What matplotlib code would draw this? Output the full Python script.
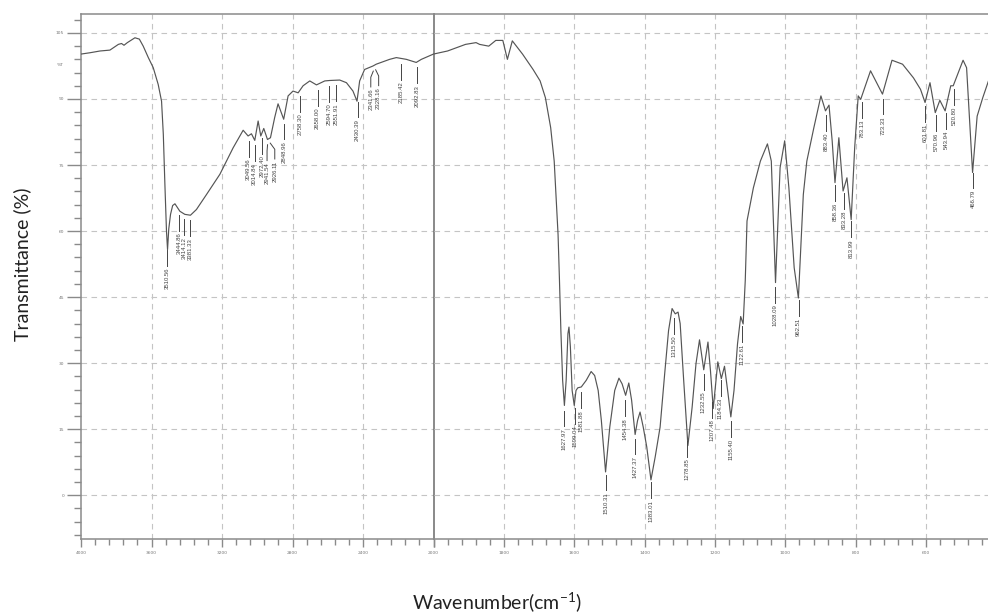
import numpy as np
import matplotlib
matplotlib.use("Agg")
import matplotlib.pyplot as plt
from matplotlib.ticker import MultipleLocator

plt.rcParams["mathtext.fontset"] = "custom"
plt.rcParams["mathtext.rm"] = "Lato"

# spectrum (cm-1, %T)
wavenumber = [
    4000, 3949, 3892, 3836, 3788, 3770, 3756, 3737, 3694, 3669, 3647, 3618,
    3590, 3562, 3543, 3533, 3524, 3515, 3509, 3502, 3492, 3480, 3467, 3439,
    3411, 3379, 3345, 3288, 3212, 3137, 3080, 3052, 3033, 3014, 2995, 2980,
    2963, 2942, 2925, 2901, 2882, 2850, 2825, 2797, 2768, 2740, 2702, 2664,
    2617, 2589, 2532, 2494, 2457, 2434, 2419, 2391, 2343, 2325, 2249, 2211,
    2154, 2098, 2069, 2000,
    1960, 1909, 1879, 1869, 1843, 1823, 1803, 1790, 1776, 1747, 1717, 1697,
    1682, 1667, 1657, 1646,
    1642, 1638, 1633, 1628, 1623, 1618, 1615, 1611, 1606, 1600, 1595, 1590,
    1580, 1566, 1552, 1542, 1532, 1523, 1511, 1499, 1485, 1473, 1464, 1454,
    1445, 1437, 1427, 1420, 1413, 1404, 1394, 1382, 1370, 1356, 1343, 1332,
    1322, 1313, 1305, 1299, 1289, 1277, 1265, 1254, 1244, 1232, 1220, 1213,
    1205, 1198, 1192, 1182, 1173, 1163, 1155, 1146, 1136, 1127, 1120,
    1114, 1109, 1091,
    1071, 1051, 1040, 1028, 1015, 1002, 990, 975, 963, 949, 939, 919, 899,
    886, 876, 867, 859, 848, 836, 825, 813, 803, 793, 786, 758, 724, 697,
    667, 636, 616, 603, 589, 574, 561, 546, 530, 523, 495, 485, 468, 455,
    439, 426, 415,
]
transmittance = [
    100.2, 100.5, 100.9, 101.1, 102.4, 102.6, 102.2, 102.8, 103.9, 103.6, 102.0, 99.4,
    97.1, 93.3, 89.5, 82.0, 70.6, 60.0, 55.8, 60.5, 63.8, 65.8, 66.2, 64.5,
    63.8, 63.6, 64.9, 68.3, 72.9, 78.9, 82.9, 81.6, 82.1, 80.6, 85.0, 81.6,
    83.3, 80.8, 81.2, 85.8, 88.9, 85.4, 90.7, 91.8, 91.4, 93.0, 94.1, 93.2,
    94.1, 94.2, 94.3, 93.7, 91.8, 89.5, 94.1, 96.7, 97.5, 97.9, 99.0, 99.4,
    99.0, 98.3, 99.0, 100.2,
    100.9, 102.4, 102.8, 102.4, 102.0, 103.3, 103.3, 99.0, 103.2, 100.2, 96.7, 94.1,
    90.3, 83.5, 75.9, 59.2,
    48.8, 37.4, 26.1, 20.4, 26.1, 36.7, 38.2, 33.7, 23.8, 20.4, 23.8, 24.4,
    24.6, 26.1, 28.1, 27.2, 23.8, 17.0, 5.3, 15.5, 23.8, 26.6, 25.3, 22.7,
    25.5, 21.6, 13.8, 17.0, 18.9, 15.5, 11.0, 3.5, 8.7, 15.5, 27.6, 37.4,
    42.4, 41.2, 41.6, 39.0, 26.1, 11.3, 20.0, 29.9, 35.3, 28.5, 34.8, 28.4,
    19.7, 25.3, 30.3, 26.5, 29.3, 23.1, 17.8, 23.8, 34.4, 40.6, 38.9,
    48.8, 62.3, 69.8,
    75.9, 79.8, 75.9, 48.3, 74.4, 80.5, 69.8, 51.7, 44.8, 68.3, 75.9, 83.5, 90.7,
    87.3, 88.6, 80.5, 71.0, 81.2, 69.1, 72.1, 62.6, 79.0, 90.7, 89.9, 96.4, 91.1, 98.8,
    97.9, 94.8, 92.2, 89.2, 93.7, 86.9, 89.7, 87.3, 93.0, 93.0, 98.8, 97.1, 73.3, 86.1,
    90.3, 93.3, 96.0,
]

peaks = [
    3510.56, 3444.86, 3414.12, 3381.33, 3049.56, 3014.84, 2972.40, 2941.54,
    2926.11, 2848.96, 2758.30, 2658.00, 2594.70, 2551.91, 2430.39, 2341.66,
    2328.16, 2185.42, 2092.83,
    1627.97, 1599.04, 1581.88, 1510.31, 1454.38, 1427.37, 1383.01, 1315.50,
    1278.85, 1232.55, 1207.48, 1184.33, 1155.40, 1122.61, 1028.09, 962.51,
    883.40, 858.36, 833.28, 813.99, 783.13, 723.33, 601.81, 570.96, 543.94,
    520.80, 466.79,
]
# a few labels sit beside their peak in the reference (pixels to the right)
label_shift = {2341.66: -2.5, 2328.16: 3.0, 2941.54: -0.5, 2926.11: 4.5}

y_major = [0, 15, 30, 45, 60, 75, 90, 105]

wn = np.array(wavenumber, dtype=float)
tr = np.array(transmittance, dtype=float)
order = np.argsort(wn)

fig = plt.figure(figsize=(9.88, 6.14), dpi=100, facecolor="white")
W, H = 988.0, 614.0
top_px, bot_px = 14.0, 539.3
ax_l = fig.add_axes([81 / W, 1 - bot_px / H, (433.5 - 81) / W, (bot_px - top_px) / H])
ax_r = fig.add_axes([433.5 / W, 1 - bot_px / H, (996.5 - 433.5) / W, (bot_px - top_px) / H])

grid_kw = dict(color="#c4c4c4", linestyle=(0, (5, 4)), linewidth=0.8)
line_col = "#555555"
spine_col = "#8a8a8a"
ann_col = "#444444"

for ax, lo, hi, major, minor in [(ax_l, 4000, 2000, 400, 80), (ax_r, 2000, 400, 200, 40)]:
    ax.plot(wn, tr, color=line_col, lw=0.85, zorder=3)
    ax.set_xlim(lo, hi)
    ax.set_ylim(-10, 109.3)
    ax.xaxis.set_major_locator(MultipleLocator(major))
    ax.xaxis.set_minor_locator(MultipleLocator(minor))
    ax.set_yticks(y_major)
    ax.yaxis.set_minor_locator(MultipleLocator(3))
    for g in range(hi + major, lo, major):
        ax.axvline(g, zorder=1, **grid_kw)
    for g in y_major:
        ax.axhline(g, zorder=1, **grid_kw)
    ax.tick_params(axis="x", which="major", direction="out", length=5.5, width=1,
                   color=spine_col, labelsize=3.2, labelcolor="#777777", pad=3)
    ax.tick_params(axis="x", which="minor", direction="out", length=4.3, width=1, color=spine_col)
    for s in ax.spines.values():
        s.set_color(spine_col)
        s.set_linewidth(1.1)
    ax.spines["right"].set_visible(False)
    ax.patch.set_alpha(0)

    # cm-1 per pixel on this half
    per_px = (lo - hi) / (ax.get_position().width * W)

    # peak labels with short leader lines
    for p in peaks:
        if not (hi < p < lo):
            continue
        ytop = np.interp(p, wn[order], tr[order]) - 1.2
        ybot = ytop - 3.6
        px = p - label_shift.get(p, 0) * per_px
        if px != p:
            ax.plot([p, px, px], [ytop, ytop - 1.4, ybot], color=ann_col, lw=0.7, zorder=4)
        else:
            ax.plot([p, p], [ytop, ybot], color=ann_col, lw=0.7, zorder=4)
        ax.text(px, ybot - 0.4, f"{p:.2f}", rotation=90, ha="center", va="top",
                fontsize=4.3, color=ann_col, family="Liberation Sans", zorder=4)

ax_l.tick_params(axis="y", which="major", direction="out", length=10, width=1,
                 color=spine_col, labelsize=3.2, labelcolor="#777777", pad=2)
ax_l.tick_params(axis="y", which="minor", direction="out", length=5, width=1, color=spine_col)
ax_l.set_xticks([4000, 3600, 3200, 2800, 2400, 2000])
ax_l.set_xticklabels(["4000", "3600", "3200", "2800", "2400", ""])
ax_l.spines["right"].set_visible(True)
ax_l.spines["right"].set_color("#6a6a6a")

ax_r.set_xticks([2000, 1800, 1600, 1400, 1200, 1000, 800, 600, 400])
ax_r.set_xticklabels(["2000", "1800", "1600", "1400", "1200", "1000", "800", "600", ""])
ax_r.spines["left"].set_visible(False)
ax_r.tick_params(axis="y", which="both", left=False, labelleft=False)

fig.text(60 / W, 1 - 65 / H, "%T", fontsize=3.2, color="#777777", ha="center", va="center")

fig.text(22 / W, 1 - 264 / H, "Transmittance (%)", rotation=90, ha="center", va="center",
         fontsize=14, family="Lato", color="#222222")
fig.text(497 / W, 1 - 603 / H, "Wavenumber(cm$^{-1}$)", ha="center", va="center",
         fontsize=14, family="Lato", color="#222222")

fig.savefig("out.png", dpi=100, facecolor="white")
